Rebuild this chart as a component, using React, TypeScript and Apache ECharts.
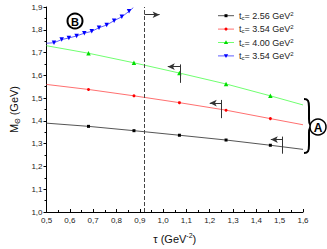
import React, { useEffect, useRef } from "react";
import * as echarts from "echarts";

const tauA = [0.5, 0.68, 0.875, 1.07, 1.27, 1.46, 1.6];
const mass256 = [1.39, 1.376, 1.357, 1.337, 1.316, 1.293, 1.275];
const mass354 = [1.56, 1.538, 1.51, 1.48, 1.447, 1.41, 1.383];
const mass400 = [1.73, 1.697, 1.655, 1.61, 1.562, 1.51, 1.47];
const tauB = [0.5, 0.532, 0.565, 0.596, 0.629, 0.662, 0.694, 0.725, 0.758, 0.79, 0.823, 0.854, 0.872];
const massB = [1.741, 1.743, 1.757, 1.764, 1.773, 1.785, 1.793, 1.809, 1.821, 1.84, 1.857, 1.881, 1.897];
const legendLabels = ["2.56", "3.54", "4.00", "3.54"];
const cutTau = 0.92;

const FONT = "Arial, 'Liberation Sans', sans-serif";

function build(xs: number[], ys: number[]) {
  return xs.map((x, i) => {
    const end = i === 0 || i === xs.length - 1;
    return end ? { value: [x, ys[i]], symbol: "none" } : { value: [x, ys[i]] };
  });
}

function seg(a: number[], b: number[], arrow: boolean) {
  return [
    { coord: a, symbol: "none" },
    { coord: b, symbol: arrow ? "arrow" : "none" },
  ];
}

export default function App() {
  const ref = useRef<HTMLDivElement>(null);
  useEffect(() => {
    document.body.style.margin = "0";
    if (!ref.current) return;
    echarts.graphic.registerShape(
      "brace",
      echarts.graphic.extendPath(
        "M0,0 C4,0 5,2 5,8 L5,20 C5,25 6,27 9,27 C6,27 5,29 5,34 L5,46 C5,52 4,54 0,54",
        {}
      )
    );
    const chart = echarts.init(ref.current, undefined, { renderer: "svg" });
    const names = ["a", "b", "c", "d"];
    const lineColors = ["#555555", "#ff7070", "#70ff70", "#6060ff"];
    const itemColors = ["#000000", "#ff0000", "#00dd00", "#0000ff"];
    const symbols = ["rect", "circle", "triangle", "triangle"];
    const sizes = [3, 3, 4.5, 4.5];
    const rot = [0, 0, 0, 180];
    const datas = [build(tauA, mass256), build(tauA, mass354), build(tauA, mass400), build(tauB, massB)];
    const series: any[] = names.map((n, i) => ({
      name: n,
      type: "line",
      data: datas[i],
      symbol: symbols[i],
      symbolSize: sizes[i],
      symbolRotate: rot[i],
      lineStyle: { color: lineColors[i], width: 1 },
      itemStyle: { color: itemColors[i] },
    }));
    series.push({
      name: "annot",
      type: "line",
      data: [],
      markLine: {
        silent: true,
        animation: false,
        symbol: ["none", "none"],
        symbolSize: [5, 7],
        label: { show: false },
        data: [
          [
            { coord: [cutTau, 1.0], symbol: "none", lineStyle: { type: "dashed", color: "#444", width: 1 } },
            { coord: [cutTau, 1.9], symbol: "none" },
          ],
          seg([cutTau, 1.866], [0.985, 1.866], true),
          seg([1.074, 1.648], [1.074, 1.567], false),
          seg([1.074, 1.638], [1.02, 1.638], true),
          seg([1.251, 1.492], [1.251, 1.412], false),
          seg([1.251, 1.478], [1.2, 1.478], true),
          seg([1.512, 1.331], [1.512, 1.256], false),
          seg([1.512, 1.318], [1.462, 1.318], true),
        ],
        lineStyle: { color: "#333", width: 1, type: "solid" },
        itemStyle: { color: "#000" },
      },
    });

    // manual legend
    const legendGraphics: any[] = [];
    const rowY = [15.7, 29.1, 42.5, 55.9];
    const lx0 = 218;
    const lx1 = 234;
    const cx = (lx0 + lx1) / 2;
    rowY.forEach((y, i) => {
      legendGraphics.push({
        type: "line",
        shape: { x1: lx0, y1: y, x2: lx1, y2: y },
        style: { stroke: lineColors[i], lineWidth: 1 },
      });
      if (i === 0) {
        legendGraphics.push({ type: "rect", shape: { x: cx - 1.5, y: y - 1.5, width: 3, height: 3 }, style: { fill: itemColors[i] } });
      } else if (i === 1) {
        legendGraphics.push({ type: "circle", shape: { cx, cy: y, r: 1.5 }, style: { fill: itemColors[i] } });
      } else if (i === 2) {
        legendGraphics.push({ type: "polygon", shape: { points: [[cx, y - 2.2], [cx + 2.2, y + 1.6], [cx - 2.2, y + 1.6]] }, style: { fill: itemColors[i] } });
      } else {
        legendGraphics.push({ type: "polygon", shape: { points: [[cx, y + 2.2], [cx + 2.2, y - 1.6], [cx - 2.2, y - 1.6]] }, style: { fill: itemColors[i] } });
      }
      legendGraphics.push({
        type: "text",
        x: 239,
        y,
        style: {
          text: `{t|t}{s|c}{t|= ${legendLabels[i]} GeV}{p|2}`,
          verticalAlign: "middle",
          align: "left",
          fontFamily: FONT,
          rich: {
            t: { fontSize: 9, lineHeight: 10, fontFamily: FONT, fill: "#222" },
            s: { fontSize: 6, lineHeight: 10, verticalAlign: "bottom", fontFamily: FONT, fill: "#222" },
            p: { fontSize: 6, lineHeight: 10, verticalAlign: "top", fontFamily: FONT, fill: "#222" },
          },
        },
      });
    });

    const labelFmt = (v: number) => v.toFixed(1).replace(".", ",");
    chart.setOption({
      animation: false,
      textStyle: { fontFamily: FONT },
      grid: { left: 36, right: 24, top: 7, bottom: 37 },
      xAxis: {
        type: "value",
        min: 0.5,
        max: 1.6,
        interval: 0.1,
        name: "τ (GeV{p|-2})",
        nameLocation: "middle",
        nameGap: 20,
        nameTextStyle: {
          fontSize: 11,
          color: "#111",
          fontFamily: FONT,
          rich: {
            p: { fontSize: 7, verticalAlign: "top", lineHeight: 13, fontFamily: FONT, color: "#111" },
          },
        },
        axisLine: { lineStyle: { color: "#000", width: 1 } },
        axisTick: { inside: true, length: 3, lineStyle: { color: "#000" } },
        minorTick: { show: true, splitNumber: 2, length: 2, lineStyle: { color: "#000" } },
        splitLine: { show: false },
        axisLabel: { fontSize: 8, color: "#222", margin: 4, formatter: labelFmt, fontFamily: FONT },
      },
      yAxis: {
        type: "value",
        min: 1.0,
        max: 1.9,
        interval: 0.1,
        name: "M{s|Θ} (GeV)",
        nameLocation: "middle",
        nameGap: 20,
        nameRotate: 90,
        nameTextStyle: {
          fontSize: 11,
          color: "#111",
          fontFamily: FONT,
          rich: {
            s: { fontSize: 7, verticalAlign: "bottom", lineHeight: 14, fontFamily: FONT, color: "#111" },
          },
        },
        axisLine: { show: true, lineStyle: { color: "#000", width: 1 } },
        axisTick: { inside: false, length: 3, lineStyle: { color: "#000" } },
        minorTick: { show: true, splitNumber: 2, length: 2, lineStyle: { color: "#000" } },
        splitLine: { show: false },
        axisLabel: { fontSize: 8, color: "#222", margin: 4, formatter: labelFmt, fontFamily: FONT },
      },
      series,
      graphic: [
        ...legendGraphics,
        {
          type: "circle",
          shape: { cx: 75, cy: 21, r: 7.5 },
          style: { fill: "#fff", stroke: "#000", lineWidth: 2 },
          z: 10,
        },
        {
          type: "text",
          x: 75,
          y: 21.5,
          style: { text: "B", fontSize: 11, fontWeight: "bold", fontFamily: FONT, fill: "#000", align: "center", verticalAlign: "middle" },
          z: 11,
        },
        {
          type: "brace",
          x: 304,
          y: 99,
          style: { fill: "none", stroke: "#000", lineWidth: 2 },
          z: 10,
        },
        {
          type: "circle",
          shape: { cx: 318, cy: 127, r: 8 },
          style: { fill: "#fff", stroke: "#000", lineWidth: 1.5 },
          z: 10,
        },
        {
          type: "text",
          x: 318,
          y: 127.5,
          style: { text: "A", fontSize: 12, fontWeight: "bold", fontFamily: FONT, fill: "#000", align: "center", verticalAlign: "middle" },
          z: 11,
        },
      ],
    });
    return () => chart.dispose();
  }, []);
  return <div ref={ref} style={{ width: 327, height: 249 }} />;
}
